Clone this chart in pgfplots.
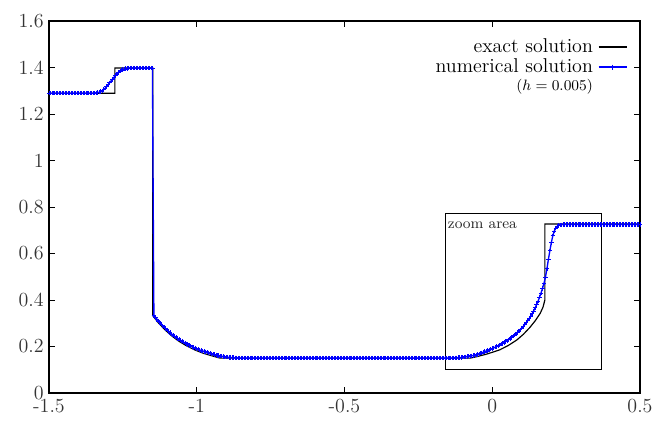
\documentclass[border=0pt]{standalone}
\usepackage{pgfplots}
\pgfplotsset{compat=1.18}
\definecolor{numblue}{RGB}{0,0,255}
\begin{document}
\begin{tikzpicture}
\begin{axis}[
  name=ax, scale only axis, width=354.6pt, height=223.2pt,
  xmin=-1.5, xmax=0.5, ymin=0, ymax=1.6,
  xtick={-1.5,-1,-0.5,0,0.5}, xticklabels={-1.5,-1,-0.5,0,0.5},
  ytick={0,0.2,0.4,0.6,0.8,1,1.2,1.4,1.6},
  yticklabels={0,0.2,0.4,0.6,0.8,1,1.2,1.4,1.6},
  tick align=inside, major tick length=3.6pt,
  tick style={black, line width=0.5pt},
  axis line style={line width=0.7pt},
  ticklabel style={font=\fontsize{12}{14}\selectfont, text=black!80},
  xticklabel style={inner sep=3.8pt},
  yticklabel style={inner sep=3pt},
  legend plot pos=right, legend cell align=right,
  legend style={draw=none, fill=none, at={(rel axis cs:0.980,0.962)}, anchor=north east,
    font=\fontsize{12}{13.5}\selectfont, row sep=-1.8pt, column sep=1pt, inner sep=0pt},
]
\addlegendimage{black, line width=0.7pt}
\addlegendentry{exact solution}
\addlegendimage{numblue, line width=0.9pt, mark=+, mark size=1.5pt, mark options={numblue, line width=0.6pt}}
\addlegendentry{numerical solution}
\addlegendimage{empty legend}
\addlegendentry{\fontsize{9.5}{11}\selectfont$(h=0.005)$}
% exact solution
\addplot[forget plot, black, line width=0.7pt, sharp plot] coordinates {
(-1.5,1.289) (-1.277,1.289) (-1.277,1.398) (-1.149,1.398) (-1.149,0.333)
(-1.13,0.302) (-1.107,0.271) (-1.085,0.246) (-1.062,0.224) (-1.035,0.203)
(-1.006,0.185) (-0.978,0.171) (-0.949,0.160) (-0.921,0.150) (-0.075,0.150)
(-0.05,0.157) (-0.02,0.167) (0.0,0.175) (0.026,0.186) (0.055,0.205)
(0.083,0.228) (0.105,0.252) (0.128,0.283) (0.145,0.310) (0.162,0.342)
(0.172,0.370) (0.178,0.400) (0.178,0.727) (0.5,0.727)
};
% numerical solution, h = 0.005
\addplot[forget plot, numblue, line width=0.8pt, mark=+, mark size=1.3pt, mark options={numblue, line width=0.5pt}] coordinates {
(-1.500,1.289)(-1.495,1.289)(-1.490,1.289)(-1.485,1.289)(-1.480,1.289)(-1.475,1.289)(-1.470,1.289)(-1.465,1.289)(-1.460,1.289)(-1.455,1.289)
(-1.450,1.289)(-1.445,1.289)(-1.440,1.289)(-1.435,1.289)(-1.430,1.289)(-1.425,1.289)(-1.420,1.289)(-1.415,1.289)(-1.410,1.289)(-1.405,1.289)
(-1.400,1.289)(-1.395,1.289)(-1.390,1.289)(-1.385,1.289)(-1.380,1.289)(-1.375,1.289)(-1.370,1.289)(-1.365,1.289)(-1.360,1.289)(-1.355,1.289)
(-1.350,1.289)(-1.345,1.290)(-1.340,1.291)(-1.335,1.292)(-1.330,1.294)(-1.325,1.297)(-1.320,1.300)(-1.315,1.305)(-1.310,1.311)(-1.305,1.318)
(-1.300,1.326)(-1.295,1.334)(-1.290,1.342)(-1.285,1.350)(-1.280,1.358)(-1.275,1.366)(-1.270,1.373)(-1.265,1.379)(-1.260,1.384)(-1.255,1.388)
(-1.250,1.391)(-1.245,1.393)(-1.240,1.395)(-1.235,1.396)(-1.230,1.397)(-1.225,1.398)(-1.220,1.398)(-1.215,1.398)(-1.210,1.398)(-1.205,1.398)
(-1.200,1.398)(-1.195,1.398)(-1.190,1.398)(-1.185,1.398)(-1.180,1.398)(-1.175,1.398)(-1.170,1.398)(-1.165,1.398)(-1.160,1.398)(-1.155,1.398)
(-1.150,1.395)(-1.145,0.335)(-1.140,0.326)(-1.135,0.318)(-1.130,0.310)(-1.125,0.303)(-1.120,0.296)(-1.115,0.289)(-1.110,0.283)(-1.105,0.277)
(-1.100,0.271)(-1.095,0.265)(-1.090,0.260)(-1.085,0.254)(-1.080,0.249)(-1.075,0.244)(-1.070,0.240)(-1.065,0.235)(-1.060,0.231)(-1.055,0.227)
(-1.050,0.223)(-1.045,0.219)(-1.040,0.215)(-1.035,0.212)(-1.030,0.208)(-1.025,0.205)(-1.020,0.202)(-1.015,0.199)(-1.010,0.196)(-1.005,0.193)
(-1.000,0.190)(-0.995,0.188)(-0.990,0.185)(-0.985,0.183)(-0.980,0.181)(-0.975,0.179)(-0.970,0.177)(-0.965,0.175)(-0.960,0.173)(-0.955,0.171)
(-0.950,0.169)(-0.945,0.167)(-0.940,0.165)(-0.935,0.164)(-0.930,0.162)(-0.925,0.161)(-0.920,0.159)(-0.915,0.158)(-0.910,0.157)(-0.905,0.156)
(-0.900,0.155)(-0.895,0.154)(-0.890,0.153)(-0.885,0.153)(-0.880,0.152)(-0.875,0.152)(-0.870,0.151)(-0.865,0.151)(-0.860,0.150)(-0.855,0.150)
(-0.850,0.150)(-0.845,0.150)(-0.840,0.150)(-0.835,0.150)(-0.830,0.150)(-0.825,0.150)(-0.820,0.150)(-0.815,0.150)(-0.810,0.150)(-0.805,0.150)
(-0.800,0.150)(-0.795,0.150)(-0.790,0.150)(-0.785,0.150)(-0.780,0.150)(-0.775,0.150)(-0.770,0.150)(-0.765,0.150)(-0.760,0.150)(-0.755,0.150)
(-0.750,0.150)(-0.745,0.150)(-0.740,0.150)(-0.735,0.150)(-0.730,0.150)(-0.725,0.150)(-0.720,0.150)(-0.715,0.150)(-0.710,0.150)(-0.705,0.150)
(-0.700,0.150)(-0.695,0.150)(-0.690,0.150)(-0.685,0.150)(-0.680,0.150)(-0.675,0.150)(-0.670,0.150)(-0.665,0.150)(-0.660,0.150)(-0.655,0.150)
(-0.650,0.150)(-0.645,0.150)(-0.640,0.150)(-0.635,0.150)(-0.630,0.150)(-0.625,0.150)(-0.620,0.150)(-0.615,0.150)(-0.610,0.150)(-0.605,0.150)
(-0.600,0.150)(-0.595,0.150)(-0.590,0.150)(-0.585,0.150)(-0.580,0.150)(-0.575,0.150)(-0.570,0.150)(-0.565,0.150)(-0.560,0.150)(-0.555,0.150)
(-0.550,0.150)(-0.545,0.150)(-0.540,0.150)(-0.535,0.150)(-0.530,0.150)(-0.525,0.150)(-0.520,0.150)(-0.515,0.150)(-0.510,0.150)(-0.505,0.150)
(-0.500,0.150)(-0.495,0.150)(-0.490,0.150)(-0.485,0.150)(-0.480,0.150)(-0.475,0.150)(-0.470,0.150)(-0.465,0.150)(-0.460,0.150)(-0.455,0.150)
(-0.450,0.150)(-0.445,0.150)(-0.440,0.150)(-0.435,0.150)(-0.430,0.150)(-0.425,0.150)(-0.420,0.150)(-0.415,0.150)(-0.410,0.150)(-0.405,0.150)
(-0.400,0.150)(-0.395,0.150)(-0.390,0.150)(-0.385,0.150)(-0.380,0.150)(-0.375,0.150)(-0.370,0.150)(-0.365,0.150)(-0.360,0.150)(-0.355,0.150)
(-0.350,0.150)(-0.345,0.150)(-0.340,0.150)(-0.335,0.150)(-0.330,0.150)(-0.325,0.150)(-0.320,0.150)(-0.315,0.150)(-0.310,0.150)(-0.305,0.150)
(-0.300,0.150)(-0.295,0.150)(-0.290,0.150)(-0.285,0.150)(-0.280,0.150)(-0.275,0.150)(-0.270,0.150)(-0.265,0.150)(-0.260,0.150)(-0.255,0.150)
(-0.250,0.150)(-0.245,0.150)(-0.240,0.150)(-0.235,0.150)(-0.230,0.150)(-0.225,0.150)(-0.220,0.150)(-0.215,0.150)(-0.210,0.150)(-0.205,0.150)
(-0.200,0.150)(-0.195,0.150)(-0.190,0.150)(-0.185,0.150)(-0.180,0.150)(-0.175,0.150)(-0.170,0.150)(-0.165,0.150)(-0.160,0.150)(-0.155,0.150)
(-0.150,0.150)(-0.145,0.150)(-0.140,0.150)(-0.135,0.150)(-0.130,0.150)(-0.125,0.151)(-0.120,0.151)(-0.115,0.152)(-0.110,0.152)(-0.105,0.153)
(-0.100,0.154)(-0.095,0.155)(-0.090,0.156)(-0.085,0.157)(-0.080,0.158)(-0.075,0.159)(-0.070,0.160)(-0.065,0.161)(-0.060,0.163)(-0.055,0.164)
(-0.050,0.166)(-0.045,0.168)(-0.040,0.171)(-0.035,0.173)(-0.030,0.176)(-0.025,0.178)(-0.020,0.181)(-0.015,0.183)(-0.010,0.186)(-0.005,0.188)
(0.000,0.191)(0.005,0.194)(0.010,0.197)(0.015,0.200)(0.020,0.203)(0.025,0.206)(0.030,0.210)(0.035,0.213)(0.040,0.217)(0.045,0.221)
(0.050,0.225)(0.055,0.229)(0.060,0.234)(0.065,0.239)(0.070,0.244)(0.075,0.249)(0.080,0.254)(0.085,0.260)(0.090,0.266)(0.095,0.272)
(0.100,0.279)(0.105,0.286)(0.110,0.294)(0.115,0.302)(0.120,0.311)(0.125,0.320)(0.130,0.330)(0.135,0.341)(0.140,0.353)(0.145,0.366)
(0.150,0.380)(0.155,0.395)(0.160,0.412)(0.165,0.430)(0.170,0.450)(0.175,0.472)(0.180,0.498)(0.185,0.534)(0.190,0.575)(0.195,0.612)
(0.200,0.648)(0.205,0.676)(0.210,0.697)(0.215,0.710)(0.220,0.717)(0.225,0.721)(0.230,0.723)(0.235,0.724)(0.240,0.725)(0.245,0.725)
(0.250,0.725)(0.255,0.725)(0.260,0.725)(0.265,0.725)(0.270,0.725)(0.275,0.725)(0.280,0.725)(0.285,0.725)(0.290,0.725)(0.295,0.725)
(0.300,0.725)(0.305,0.725)(0.310,0.725)(0.315,0.725)(0.320,0.725)(0.325,0.725)(0.330,0.725)(0.335,0.725)(0.340,0.725)(0.345,0.725)
(0.350,0.725)(0.355,0.725)(0.360,0.725)(0.365,0.725)(0.370,0.725)(0.375,0.725)(0.380,0.725)(0.385,0.725)(0.390,0.725)(0.395,0.725)
(0.400,0.725)(0.405,0.725)(0.410,0.725)(0.415,0.725)(0.420,0.725)(0.425,0.725)(0.430,0.725)(0.435,0.725)(0.440,0.725)(0.445,0.725)
(0.450,0.725)(0.455,0.725)(0.460,0.725)(0.465,0.725)(0.470,0.725)(0.475,0.725)(0.480,0.725)(0.485,0.725)(0.490,0.725)(0.495,0.725)
(0.500,0.725)
};
% zoom window
\draw[black, line width=0.6pt] (axis cs:-0.157,0.103) rectangle (axis cs:0.370,0.770);
\node[anchor=west, inner sep=0pt, font=\fontsize{9}{11}\selectfont, text=black!85] at (axis cs:-0.151,0.722) {zoom area};
\end{axis}
\pgfresetboundingbox
\path ([shift={(-29.4pt,-16.2pt)}]ax.south west) rectangle ([shift={(9pt,12.6pt)}]ax.north east);
\end{tikzpicture}
\end{document}
